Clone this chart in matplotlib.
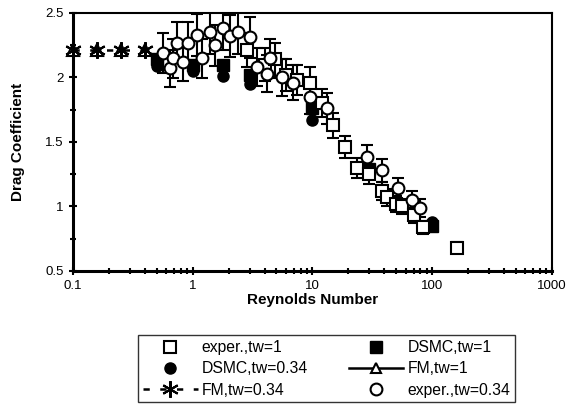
import numpy as np
import matplotlib
matplotlib.use("Agg")
import matplotlib.pyplot as plt
from matplotlib.lines import Line2D
from matplotlib.ticker import FixedLocator, FuncFormatter, LogLocator, NullFormatter

plt.rcParams["font.family"] = ["Liberation Sans", "DejaVu Sans"]

# ---- experiments, tw = 1 (open squares) ----
re_exp1 = [2.84, 4.0, 4.9, 6.0, 7.5, 9.5, 12.0, 14.8, 18.7, 23.5, 30.0,
           38.0, 42.0, 50.0, 56.0, 70.0, 84.0, 161.0]
cd_exp1 = [2.21, 2.10, 2.14, 2.02, 1.98, 1.96, 1.80, 1.63, 1.46, 1.30, 1.25,
           1.12, 1.07, 1.02, 1.00, 0.93, 0.84, 0.68]

# ---- experiments, tw = 0.34 (open circles) ----
re_exp034 = [0.565, 0.646, 0.684, 0.739, 0.829, 0.913, 1.085, 1.194, 1.393,
             1.534, 1.789, 2.047, 2.387, 3.007, 3.44, 4.17, 4.42, 5.56, 6.88,
             9.53, 13.2, 28.5, 38.0, 51.7, 67.7, 79.0]
cd_exp034 = [2.19, 2.07, 2.15, 2.27, 2.12, 2.27, 2.33, 2.15, 2.35,
             2.25, 2.38, 2.32, 2.35, 2.31, 2.08, 2.03, 2.15, 2.00, 1.96,
             1.85, 1.76, 1.38, 1.28, 1.14, 1.05, 0.99]

# ---- DSMC ----
re_dsmc = [0.5, 1.0, 1.8, 3.0, 10.0, 30.0, 100.0]
cd_dsmc1 = [2.14, 2.10, 2.10, 2.02, 1.76, 1.29, 0.85]
cd_dsmc034 = [2.09, 2.05, 2.01, 1.95, 1.67, 1.27, 0.88]

# ---- free-molecular limit ----
re_fm = [0.1, 0.158, 0.251, 0.398]
cd_fm1 = [2.21, 2.21, 2.21, 2.21]
cd_fm034 = [2.21, 2.21, 2.21, 2.21]

ERR_EXP1 = 0.06     # relative uncertainty
ERR_EXP034 = 0.07

fig = plt.figure(figsize=(5.7, 4.05), dpi=100)
ax = fig.add_axes([0.128, 0.331, 0.840, 0.637])

eb = dict(ecolor="black", elinewidth=1.5, capsize=4.5, capthick=1.5, ls="none")

h_exp1 = ax.errorbar(re_exp1, cd_exp1, yerr=np.array(cd_exp1) * ERR_EXP1,
                     marker="s", ms=8, mfc="white", mec="black", mew=1.5,
                     label="exper.,tw=1", **eb)
h_d1, = ax.plot(re_dsmc, cd_dsmc1, "s", ms=8, color="black", label="DSMC,tw=1")
h_d034, = ax.plot(re_dsmc, cd_dsmc034, "o", ms=8, color="black",
                  label="DSMC,tw=0.34")
h_exp034 = ax.errorbar(re_exp034, cd_exp034,
                       yerr=np.array(cd_exp034) * ERR_EXP034,
                       marker="o", ms=8.5, mfc="white", mec="black", mew=1.5,
                       label="exper.,tw=0.34", **eb)
h_fm034, = ax.plot(re_fm, cd_fm034, ls=(0, (2.5, 4.2)), color="black", lw=1.8,
                   marker=(6, 2, 0), ms=12, mew=1.5, label="FM,tw=0.34",
                   clip_on=False, zorder=4)
ax.plot(re_fm, cd_fm1, ls="none", marker="^", ms=9, mfc="none", mec="black",
        mew=1.5, clip_on=False, zorder=4)
# legend entry for the FM tw=1 curve (solid line with triangle)
h_fm1 = Line2D([], [], ls="-", color="black", lw=1.8, marker="^", ms=7,
               mfc="white", mec="black", mew=1.5, label="FM,tw=1")

ax.set_xscale("log")
ax.set_xlim(0.1, 1000)
ax.set_ylim(0.5, 2.5)

ax.xaxis.set_major_locator(LogLocator(base=10))
ax.xaxis.set_minor_locator(LogLocator(base=10, subs=np.arange(2, 10)))
ax.xaxis.set_minor_formatter(NullFormatter())
ax.xaxis.set_major_formatter(FuncFormatter(lambda v, p: f"{v:g}"))
ax.yaxis.set_major_locator(FixedLocator([0.5, 1.0, 1.5, 2.0, 2.5]))
ax.yaxis.set_minor_locator(FixedLocator([0.75, 1.25, 1.75, 2.25]))
ax.yaxis.set_major_formatter(FuncFormatter(lambda v, p: f"{v:g}"))

ax.tick_params(which="both", direction="inout", width=1.5, labelsize=9.5)
ax.tick_params(which="major", length=6)
ax.tick_params(which="minor", length=5)
for side in ["left", "bottom"]:
    ax.spines[side].set_linewidth(2.2)
for side in ["top", "right"]:
    ax.spines[side].set_linewidth(1.5)

ax.set_xlabel("Reynolds Number", fontsize=11, fontweight="bold", labelpad=1)
ax.set_ylabel("Drag Coefficient", fontsize=11, fontweight="bold", labelpad=15)

# marker-only handles for the error-bar series
handles = [h_exp1.lines[0], h_d034, h_fm034, h_d1, h_fm1, h_exp034.lines[0]]
labels = ["exper.,tw=1", "DSMC,tw=0.34", "FM,tw=0.34",
          "DSMC,tw=1", "FM,tw=1", "exper.,tw=0.34"]
leg = fig.legend(handles=handles, labels=labels,
                 ncol=2, loc="upper left", bbox_to_anchor=(0.242, 0.172),
                 borderaxespad=0, fontsize=11.3, handlelength=3.5,
                 columnspacing=2.6, labelspacing=0.4, borderpad=0.3,
                 handletextpad=0.25, frameon=True, fancybox=False,
                 edgecolor="black")
leg.get_frame().set_linewidth(1.0)

fig.savefig("out.png", dpi=100)
